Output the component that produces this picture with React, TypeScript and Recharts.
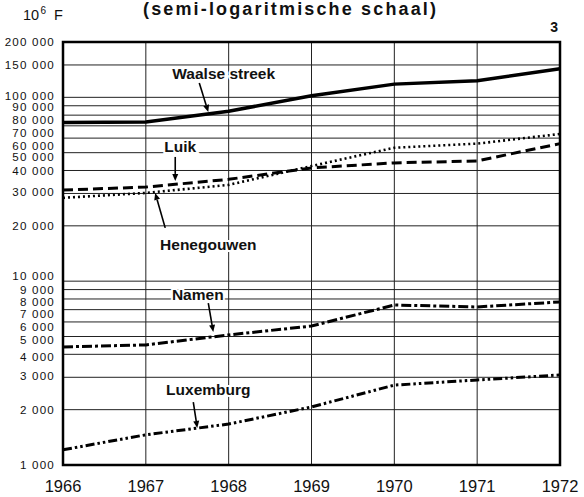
import React from 'react';
import {
  LineChart,
  Line,
  XAxis,
  YAxis,
  CartesianGrid,
  ReferenceArea,
  ReferenceDot,
  ReferenceLine,
} from 'recharts';

const years = [1966, 1967, 1968, 1969, 1970, 1971, 1972];
const waalseStreek = [73000, 73500, 84000, 102000, 118000, 123000, 143000];
const luik = [31300, 32500, 35800, 41300, 44000, 45100, 56000];
const henegouwen = [28400, 30200, 33400, 42300, 53200, 56000, 63200];
const namen = [4390, 4500, 5100, 5700, 7420, 7240, 7710];
const luxemburg = [1210, 1460, 1670, 2070, 2720, 2900, 3090];

const yTicks = [
  1000, 2000, 3000, 4000, 5000, 6000, 7000, 8000, 9000, 10000,
  20000, 30000, 40000, 50000, 60000, 70000, 80000, 90000, 100000,
  150000, 200000,
];

const titleText = '(semi-logaritmische schaal)';
const unitBase = '10';
const unitExp = '6';
const unitSuffix = 'F';
const pageNumber = '3';

const seriesLabels = [
  { text: 'Waalse streek', year: 1967.94, value: 134000 },
  { text: 'Luik', year: 1967.415, value: 53700 },
  { text: 'Henegouwen', year: 1967.754, value: 15900 },
  { text: 'Namen', year: 1967.627, value: 8510 },
  { text: 'Luxemburg', year: 1967.754, value: 2590 },
];

const arrowFromYear = [1967.645, 1967.355, 1967.234, 1967.754, 1967.573];
const arrowFromValue = [119700, 47400, 19500, 7600, 2200];
const arrowToYear = [1967.754, 1967.355, 1967.113, 1967.814, 1967.621];
const arrowToValue = [83300, 35100, 30200, 5290, 1590];

const data = years.map((y, i) => ({
  year: y,
  waalse: waalseStreek[i],
  luik: luik[i],
  henegouwen: henegouwen[i],
  namen: namen[i],
  luxemburg: luxemburg[i],
}));

// small vertical nudges (px) of the y tick labels, as spread out in the original
const yLabelNudge: Record<number, number> = {
  100000: -1.5,
  90000: 1.5,
  80000: 4.5,
  70000: 7,
  60000: 7.5,
  50000: 4.5,
  30000: -2,
  10000: -5,
  8000: 3,
  7000: 4,
  6000: 5,
  5000: 3.5,
  4000: 3,
  3000: -1,
};

const FONT = '"Liberation Sans", Arial, Helvetica, sans-serif';

const fmt = (n: number) => String(n).replace(/\B(?=(\d{3})+(?!\d))/g, ' ');

const YTick = (p: any) => (
  <text
    x={p.x}
    y={p.y + (yLabelNudge[p.payload.value] || 0)}
    dy={4.1}
    textAnchor="end"
    fontSize={11.6}
    letterSpacing={1.2}
    fontFamily={FONT}
    fill="#111"
  >
    {fmt(p.payload.value)}
  </text>
);

const XTick = (p: any) => (
  <text
    x={p.x}
    y={p.y}
    dy={19}
    textAnchor="middle"
    fontSize={16.5}
    fontFamily={FONT}
    fill="#111"
  >
    {p.payload.value}
  </text>
);

const Arrow = (p: any) => {
  const { x1, y1, x2, y2 } = p;
  if ([x1, y1, x2, y2].some((v) => typeof v !== 'number' || isNaN(v))) return null;
  const ang = Math.atan2(y2 - y1, x2 - x1);
  const len = 7;
  const w = 3;
  const bx = x2 - len * Math.cos(ang);
  const by = y2 - len * Math.sin(ang);
  const px = -Math.sin(ang) * w;
  const py = Math.cos(ang) * w;
  return (
    <g>
      <line x1={x1} y1={y1} x2={bx} y2={by} stroke="#000" strokeWidth={1.6} />
      <polygon
        points={`${x2},${y2} ${bx + px},${by + py} ${bx - px},${by - py}`}
        fill="#000"
      />
    </g>
  );
};

export default function App() {
  return (
    <div
      style={{
        position: 'absolute',
        left: 0,
        top: 0,
        width: 584,
        height: 497,
        background: '#fff',
      }}
    >
      <LineChart
        width={584}
        height={497}
        data={data}
        margin={{ top: 42, right: 24, bottom: 2, left: 0 }}
      >
        <CartesianGrid stroke="#222" strokeWidth={1} />
        <XAxis
          dataKey="year"
          type="number"
          domain={[1966, 1972]}
          ticks={years}
          axisLine={false}
          tickLine={false}
          height={30}
          tick={<XTick />}
          interval={0}
        />
        <YAxis
          type="number"
          scale="log"
          domain={[1000, 200000]}
          ticks={yTicks}
          allowDataOverflow
          axisLine={false}
          tickLine={false}
          width={63}
          tick={<YTick />}
          interval={0}
        />
        <ReferenceArea
          x1={1966}
          x2={1972}
          y1={1000}
          y2={200000}
          fill="none"
          stroke="#000"
          strokeWidth={2.5}
          ifOverflow="visible"
        />
        <Line
          dataKey="waalse"
          stroke="#000"
          strokeWidth={3.5}
          dot={false}
          isAnimationActive={false}
          type="linear"
        />
        <Line
          dataKey="luik"
          stroke="#000"
          strokeWidth={3}
          strokeDasharray="10 5"
          dot={false}
          isAnimationActive={false}
          type="linear"
        />
        <Line
          dataKey="henegouwen"
          stroke="#000"
          strokeWidth={2.6}
          strokeDasharray="2 3"
          dot={false}
          isAnimationActive={false}
          type="linear"
        />
        <Line
          dataKey="namen"
          stroke="#000"
          strokeWidth={3}
          strokeDasharray="10 3 3 3"
          dot={false}
          isAnimationActive={false}
          type="linear"
        />
        <Line
          dataKey="luxemburg"
          stroke="#000"
          strokeWidth={3}
          strokeDasharray="9 3 2.5 3 2.5 3"
          dot={false}
          isAnimationActive={false}
          type="linear"
        />
        {arrowFromYear.map((fy, i) => (
          <ReferenceLine
            key={'a' + i}
            segment={[
              { x: fy, y: arrowFromValue[i] },
              { x: arrowToYear[i], y: arrowToValue[i] },
            ]}
            ifOverflow="visible"
            shape={<Arrow />}
          />
        ))}
        {seriesLabels.map((l, i) => (
          <ReferenceDot
            key={'l' + i}
            x={l.year}
            y={l.value}
            r={0}
            ifOverflow="visible"
            shape={(p: any) => (
              <text
                x={p.cx}
                y={p.cy}
                dy={5.5}
                textAnchor="middle"
                fontSize={15.5}
                fontWeight="bold"
                fontFamily={FONT}
                fill="#111"
                stroke="#fff"
                strokeWidth={4}
                paintOrder="stroke"
              >
                {l.text}
              </text>
            )}
          />
        ))}
      </LineChart>
      <svg
        width={584}
        height={497}
        style={{ position: 'absolute', left: 0, top: 0, pointerEvents: 'none' }}
      >
        <text
          x={143}
          y={15}
          textLength={293}
          lengthAdjust="spacing"
          fontSize={18}
          fontWeight="bold"
          fontFamily={FONT}
          fill="#111"
        >
          {titleText}
        </text>
        <text fontSize={14.5} fontFamily={FONT} fill="#111">
          <tspan x={23} y={20}>{unitBase}</tspan>
          <tspan x={40.5} y={14} fontSize={10}>
            {unitExp}
          </tspan>
          <tspan x={54} y={20}>{unitSuffix}</tspan>
        </text>
        <text
          x={558}
          y={32}
          textAnchor="end"
          fontSize={14}
          fontWeight="bold"
          fontFamily={FONT}
          fill="#111"
        >
          {pageNumber}
        </text>
      </svg>
    </div>
  );
}
